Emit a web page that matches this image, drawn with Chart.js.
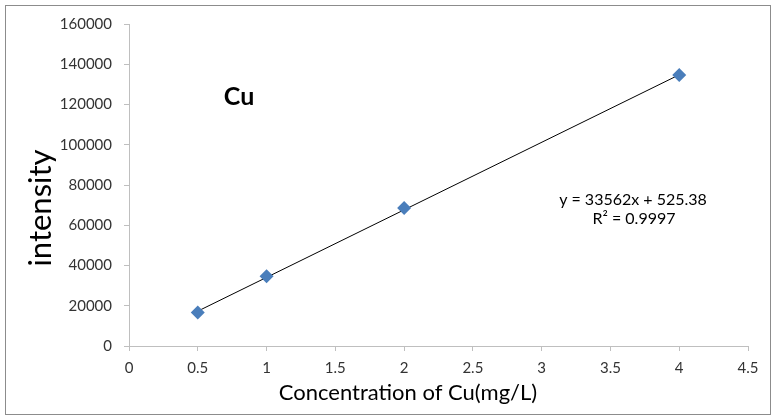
<!DOCTYPE html>
<html>
<head>
<meta charset="utf-8">
<script src="https://cdn.jsdelivr.net/npm/chart.js@4.4.0/dist/chart.umd.min.js"></script>
<style>
  html, body { margin: 0; padding: 0; background: #fff; }
  #wrap { position: relative; width: 772px; height: 417px; }
</style>
</head>
<body>
<div id="wrap"><canvas id="c" width="772" height="417"></canvas></div>
<script>
// measured points (concentration mg/L -> intensity)
var concentration = [0.5, 1, 2, 4];
var intensity = [16600, 34600, 68600, 134600];

// linear trendline as printed on the chart
var trendSlope = 33562;
var trendIntercept = 525.38;
var trendX = [0.5, 4];

var xTicks = [0, 0.5, 1, 1.5, 2, 2.5, 3, 3.5, 4, 4.5];
var yTicks = [0, 20000, 40000, 60000, 80000, 100000, 120000, 140000, 160000];

var axisGrey = "#bfbfbf";
var labelFont = "Lato, 'Open Sans', sans-serif";

var pts = concentration.map(function (x, i) { return { x: x, y: intensity[i] }; });
var trend = trendX.map(function (x) { return { x: x, y: trendSlope * x + trendIntercept }; });

var decor = {
  id: "decor",
  afterDraw: function (chart) {
    var ctx = chart.ctx;
    ctx.save();
    // outer frame
    ctx.strokeStyle = "#8c8c8c";
    ctx.lineWidth = 1;
    ctx.strokeRect(5.5, 5.5, 765, 409);

    ctx.fillStyle = "#000";
    ctx.textAlign = "center";
    ctx.textBaseline = "middle";

    ctx.font = "bold 25px " + labelFont;
    ctx.fillText("Cu", 239, 97);

    ctx.font = "16px " + labelFont;
    ctx.fillText("y = 33562x + 525.38", 633, 200);
    ctx.fillText("R\u00b2 = 0.9997", 634, 219);

    ctx.font = "22px " + labelFont;
    ctx.fillText("Concentration of Cu(mg/L)", 408, 393);

    ctx.translate(41, 208);
    ctx.rotate(-Math.PI / 2);
    ctx.font = "31px " + labelFont;
    ctx.fillText("intensity", 0, 0);
    ctx.restore();
  }
};

new Chart(document.getElementById("c"), {
  type: "scatter",
  data: {
    datasets: [
      {
        label: "trend",
        data: trend,
        showLine: true,
        borderColor: "#000",
        borderWidth: 1,
        pointRadius: 0,
        order: 2
      },
      {
        label: "Cu",
        data: pts,
        pointStyle: "rectRot",
        pointRadius: 7,
        backgroundColor: "#4a7ebb",
        borderColor: "#4a7ebb",
        borderWidth: 0,
        order: 1
      }
    ]
  },
  options: {
    responsive: false,
    animation: false,
    layout: { padding: { top: 24, right: 24, left: 0, bottom: 0 } },
    plugins: { legend: { display: false }, tooltip: { enabled: false } },
    scales: {
      x: {
        type: "linear",
        min: 0,
        max: 4.5,
        afterBuildTicks: function (s) { s.ticks = xTicks.map(function (v) { return { value: v }; }); },
        afterFit: function (s) { s.height = 71; },
        grid: { drawOnChartArea: false, drawTicks: true, tickLength: 5, color: axisGrey },
        border: { display: true, color: axisGrey },
        ticks: {
          color: "#333",
          padding: 8,
          font: { family: labelFont, size: 15 },
          callback: function (v) { return String(v); }
        }
      },
      y: {
        type: "linear",
        min: 0,
        max: 160000,
        afterBuildTicks: function (s) { s.ticks = yTicks.map(function (v) { return { value: v }; }); },
        afterFit: function (s) { s.width = 129; },
        grid: { drawOnChartArea: false, drawTicks: true, tickLength: 5, color: axisGrey },
        border: { display: true, color: axisGrey },
        ticks: {
          color: "#333",
          padding: 12,
          font: { family: labelFont, size: 15 },
          callback: function (v) { return String(v); }
        }
      }
    }
  },
  plugins: [decor]
});
</script>
</body>
</html>
